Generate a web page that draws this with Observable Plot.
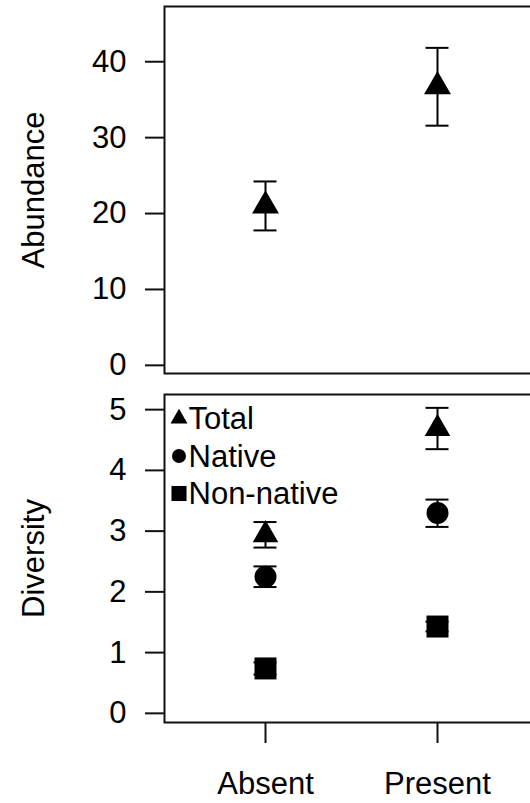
<!DOCTYPE html>
<html><head><meta charset="utf-8">
<script src="https://cdn.jsdelivr.net/npm/d3@7"></script>
<script src="https://cdn.jsdelivr.net/npm/@observablehq/plot@0.6"></script>
<style>
html,body{margin:0;padding:0;background:#fff;overflow:hidden;}
#chart{width:530px;height:803px;overflow:hidden;}
#chart svg{display:block;}
</style></head><body><div id="chart"></div>
<script>
// ---- data ----
const groups = ["Absent", "Present"];
const abundanceMean = [20.5, 36.2];
const abundanceLow = [17.25, 31.05];
const abundanceHigh = [23.7, 41.3];
const abundanceTicks = [0, 10, 20, 30, 40];

const series = ["Total", "Native", "Non-native"];
const seriesSymbols = ["triangle", "circle", "square"];
const totalMean = [2.89, 4.64];
const totalLow = [2.68, 4.30];
const totalHigh = [3.10, 4.98];
const nativeMean = [2.20, 3.25];
const nativeLow = [2.03, 3.02];
const nativeHigh = [2.37, 3.47];
const nonNativeMean = [0.69, 1.38];
const nonNativeLow = [0.59, 1.30];
const nonNativeHigh = [0.79, 1.46];
const diversityTicks = [0, 1, 2, 3, 4, 5];

const yTitles = ["Abundance", "Diversity"];

// ---- tables ----
const abundance = groups.map((g, i) => ({group: g, mean: abundanceMean[i], lo: abundanceLow[i], hi: abundanceHigh[i]}));
const means = [totalMean, nativeMean, nonNativeMean];
const lows = [totalLow, nativeLow, nonNativeLow];
const highs = [totalHigh, nativeHigh, nonNativeHigh];
const diversity = series.flatMap((s, k) => groups.map((g, i) => ({series: s, group: g, mean: means[k][i], lo: lows[k][i], hi: highs[k][i]})));

// ---- styles ----
const FONT = "'Liberation Sans', Arial, sans-serif";
const FS = 31;
const INK = "#111";
const markR = {"Total": 9.5, "Native": 11, "Non-native": 12.4};
const legendR = {"Total": 6.3, "Native": 7, "Non-native": 8.5};
const svgStyle = {fontFamily: FONT, maxWidth: "none", background: "white", color: "#000"};
const xScale = {type: "point", domain: groups, padding: 0.587, align: 0.5};

function errorBars(rows) {
  return [
    Plot.ruleX(rows, {x: "group", y1: "lo", y2: "hi", stroke: "#000", strokeWidth: 2}),
    Plot.ruleY(rows, {x1: "group", x2: "group", y: "lo", insetLeft: -11.5, insetRight: -11.5, stroke: "#000", strokeWidth: 2}),
    Plot.ruleY(rows, {x1: "group", x2: "group", y: "hi", insetLeft: -11.5, insetRight: -11.5, stroke: "#000", strokeWidth: 2})
  ];
}

function yTitle(t) {
  return Plot.text([t], {text: d => d, frameAnchor: "left", dx: -121, rotate: -90, textAnchor: "middle", lineAnchor: "bottom", fontSize: FS, fill: "#000"});
}

const topPanel = Plot.plot({
  width: 540, height: 383,
  marginLeft: 164, marginRight: 2, marginTop: 6, marginBottom: 10,
  style: svgStyle,
  x: {...xScale, axis: null},
  y: {domain: [-1.6, 46.75]},
  marks: [
    Plot.frame({stroke: INK, strokeWidth: 2}),
    Plot.axisY({ticks: abundanceTicks, tickFormat: d => String(d), label: null, tickSize: 19, tickPadding: 19, fontSize: FS, dy: 4, stroke: INK, strokeWidth: 2, fill: "#000"}),
    yTitle(yTitles[0]),
    ...errorBars(abundance),
    Plot.dot(abundance, {x: "group", y: "mean", symbol: "triangle", r: 10, fill: "#000"})
  ]
});

const bottomPanel = Plot.plot({
  width: 540, height: 420,
  marginLeft: 164, marginRight: 2, marginTop: 11, marginBottom: 81,
  style: svgStyle,
  x: xScale,
  y: {domain: [-0.2, 5.2]},
  marks: [
    Plot.frame({stroke: INK, strokeWidth: 2}),
    Plot.axisY({ticks: diversityTicks, tickFormat: d => String(d), label: null, tickSize: 19, tickPadding: 19, fontSize: FS, dy: 3, stroke: INK, strokeWidth: 2, fill: "#000"}),
    Plot.axisX({label: null, tickSize: 21, tickPadding: 28, fontSize: FS, stroke: INK, strokeWidth: 2, fill: "#000"}),
    yTitle(yTitles[1]),
    ...errorBars(diversity),
    ...series.map((s, k) => Plot.dot(diversity.filter(d => d.series === s), {x: "group", y: "mean", symbol: seriesSymbols[k], r: markR[s], fill: "#000"})),
    ...series.map((s, k) => Plot.dot([s], {frameAnchor: "top-left", dx: 14.5, dy: 24 + 37.5 * k, symbol: seriesSymbols[k], r: legendR[s], fill: "#000"})),
    ...series.map((s, k) => Plot.text([s], {text: d => d, frameAnchor: "top-left", dx: 24, dy: 25 + 37.5 * k, textAnchor: "start", lineAnchor: "middle", fontSize: FS, fill: "#000"}))
  ]
});

document.getElementById("chart").append(topPanel, bottomPanel);
</script></body></html>
